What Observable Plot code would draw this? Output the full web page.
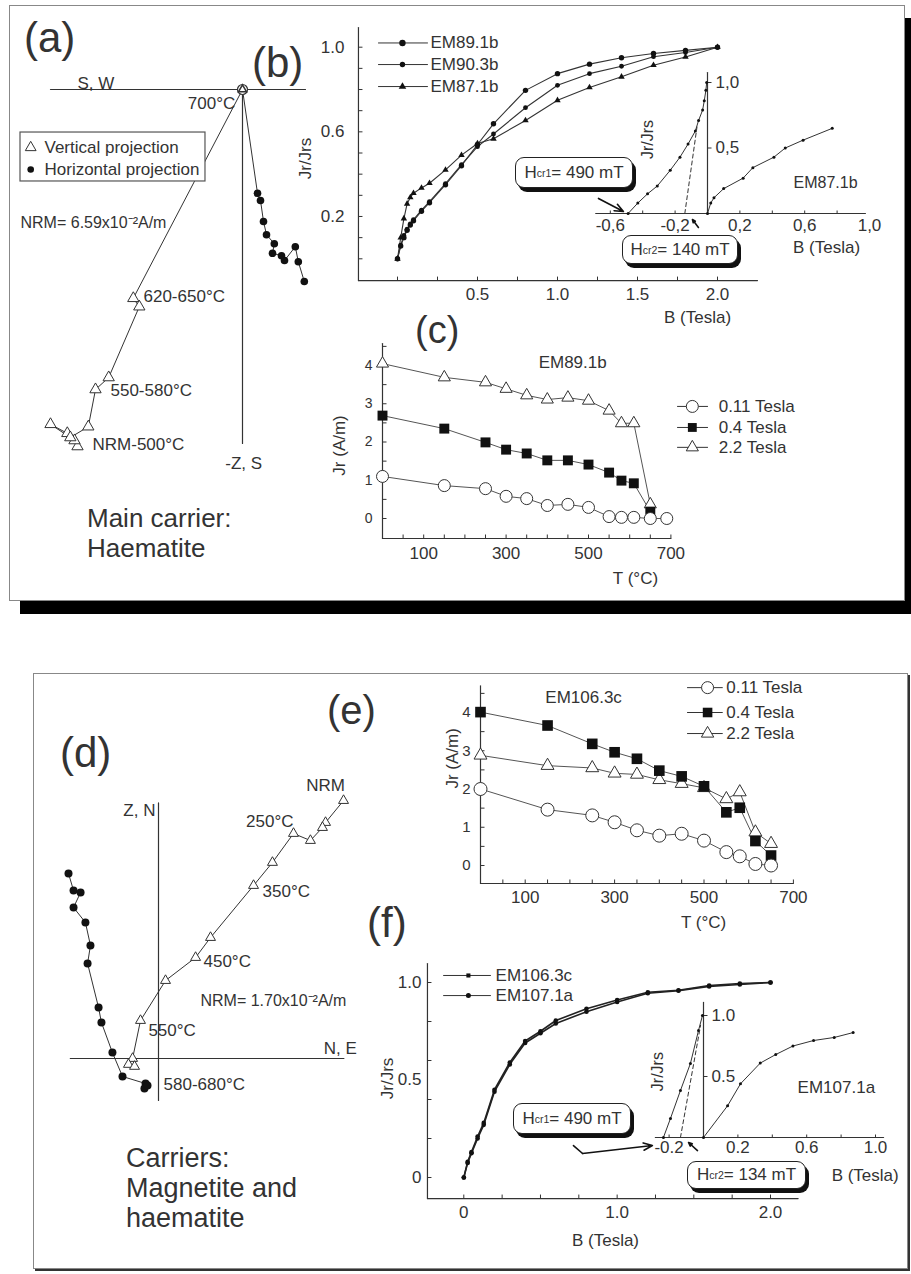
<!DOCTYPE html>
<html>
<head>
<meta charset="utf-8">
<title>Palaeomagnetic and rock-magnetic results</title>
<script src="https://cdn.jsdelivr.net/npm/d3@7"></script>
<script src="https://cdn.jsdelivr.net/npm/@observablehq/plot@0.6"></script>
<style>
  html, body { margin: 0; padding: 0; background: #fff; }
  #fig { position: relative; width: 911px; height: 1274px; overflow: hidden; background: #fff;
         font-family: "Liberation Sans", Arial, Helvetica, sans-serif; color: #333; }
  #fig > svg { position: absolute; left: 0; top: 0; }
  .frame { position: absolute; box-sizing: border-box; background: #fff; }
  .t { position: absolute; white-space: nowrap; line-height: 1; }
  .callout { position: absolute; box-sizing: border-box; background: #fff; border: 1.6px solid #222;
             border-radius: 9px; box-shadow: 3px 4px 0 #111; display: flex; align-items: center;
             justify-content: center; font-size: 17px; white-space: nowrap; color: #333; }
  .callout sub { font-size: 0.62em; vertical-align: -0.3em; }
</style>
</head>
<body>
<div id="fig"></div>
<script>
// ---------- (a) orthogonal demagnetization plot, components in mA/m ----------
const aVertical = [
  [-27.5, -59.5], [-28.0, -58.5], [-29.2, -57.3], [-32.0, -55.8], [-28.7, -58.0],
  [-25.7, -56.2], [-24.5, -50.0], [-22.3, -48.0], [-17.2, -36.2], [-18.2, -34.8], [0, 0]
];
const aHorizontal = [
  [10.3, -32.0], [9.3, -28.7], [8.8, -26.2], [7.0, -28.5], [6.5, -27.7], [5.0, -27.3],
  [5.3, -25.7], [4.0, -24.2], [3.5, -22.0], [3.0, -18.5], [2.5, -17.3], [0, 0]
];

// ---------- (b) IRM acquisition, Jr/Jrs vs B (T) ----------
const bField  = [0, 0.02, 0.04, 0.06, 0.08, 0.1, 0.15, 0.2, 0.3, 0.4, 0.5, 0.6, 0.8, 1.0, 1.2, 1.4, 1.6, 1.8, 2.0];
const bEM891b = [0, 0.06, 0.10, 0.135, 0.16, 0.18, 0.225, 0.265, 0.35, 0.44, 0.54, 0.638, 0.796, 0.875, 0.92, 0.95, 0.97, 0.985, 1.0];
const bEM903b = [0, 0.065, 0.11, 0.14, 0.165, 0.185, 0.23, 0.27, 0.355, 0.445, 0.53, 0.59, 0.714, 0.82, 0.875, 0.91, 0.955, 0.975, 1.0];
const bEM871b = [0, 0.10, 0.19, 0.26, 0.29, 0.31, 0.335, 0.357, 0.42, 0.49, 0.545, 0.567, 0.654, 0.749, 0.81, 0.86, 0.915, 0.954, 1.0];
// inset: back-field and forward curves of EM87.1b
const bBackField = [-0.49, -0.43, -0.37, -0.31, -0.23, -0.17, -0.12, -0.075, -0.055, -0.03, -0.02, -0.01, -0.005];
const bBackJ     = [0, 0.08, 0.15, 0.21, 0.33, 0.43, 0.53, 0.63, 0.71, 0.79, 0.86, 0.94, 1.0];
const bFwdField  = [0, 0.02, 0.04, 0.1, 0.22, 0.28, 0.41, 0.48, 0.59, 0.77];
const bFwdJ      = [0, 0.08, 0.12, 0.19, 0.27, 0.35, 0.43, 0.50, 0.56, 0.65];
const bHcr = [490, 140]; // mT

// ---------- (c) thermal demagnetization of IRM, EM89.1b ----------
const cTemp = [0, 150, 250, 300, 350, 400, 450, 500, 550, 580, 610, 650, 690];
const c011  = [1.10, 0.86, 0.78, 0.58, 0.52, 0.34, 0.37, 0.29, 0.05, 0.03, 0.03, 0, 0];
const c04   = [2.69, 2.35, 1.99, 1.80, 1.70, 1.52, 1.52, 1.41, 1.20, 0.99, 0.92, 0.18];
const c22   = [4.05, 3.69, 3.56, 3.39, 3.22, 3.11, 3.16, 3.08, 2.82, 2.49, 2.49, 0.37];

// ---------- (d) orthogonal demagnetization plot, components in mA/m ----------
const dVertical = [
  [10.28, 14.33], [9.28, 13.11], [9.11, 12.83], [8.44, 12.11], [7.5, 12.5], [6.33, 10.89],
  [5.28, 9.61], [2.89, 6.72], [2.06, 5.61], [0.39, 4.33], [-1.0, 2.11], [-1.44, 0],
  [-1.67, -0.33], [-1.33, -0.44]
];
const dHorizontal = [
  [-5.0, 10.28], [-4.72, 9.33], [-4.33, 9.22], [-4.72, 8.39], [-4.06, 7.56], [-3.78, 6.28],
  [-3.94, 5.28], [-3.33, 2.83], [-3.17, 2.0], [-2.56, 0.33], [-2.0, -1.0], [-0.72, -1.39],
  [-0.78, -1.67], [-0.61, -1.5]
];

// ---------- (e) thermal demagnetization of IRM, EM106.3c ----------
const eTemp = [0, 150, 250, 300, 350, 400, 450, 500, 550, 580, 615, 650];
const e011  = [2.0, 1.46, 1.31, 1.13, 0.92, 0.78, 0.83, 0.65, 0.35, 0.24, 0.04, 0];
const e04   = [4.01, 3.66, 3.18, 2.96, 2.79, 2.48, 2.33, 2.07, 1.39, 1.51, 0.64, 0.26];
const e22   = [2.88, 2.61, 2.55, 2.41, 2.38, 2.24, 2.14, 2.03, 1.74, 1.92, 0.87, 0.57];

// ---------- (f) IRM acquisition ----------
const fField   = [0, 0.025, 0.05, 0.09, 0.13, 0.2, 0.3, 0.4, 0.5, 0.6, 0.8, 1.0, 1.2, 1.4, 1.6, 1.8, 2.0];
const fEM1063c = [0, 0.08, 0.13, 0.21, 0.28, 0.45, 0.59, 0.70, 0.75, 0.805, 0.865, 0.91, 0.95, 0.96, 0.985, 0.995, 1.0];
const fEM1071a = [0, 0.075, 0.125, 0.20, 0.27, 0.44, 0.58, 0.69, 0.74, 0.79, 0.85, 0.90, 0.945, 0.958, 0.98, 0.99, 1.0];
const fBackField = [-0.233, -0.192, -0.134, -0.076, -0.029, -0.006];
const fBackJ     = [0, 0.156, 0.385, 0.607, 0.877, 1.0];
const fFwdField  = [0, 0.14, 0.215, 0.33, 0.42, 0.52, 0.64, 0.76, 0.87];
const fFwdJ      = [0, 0.26, 0.44, 0.61, 0.68, 0.75, 0.795, 0.82, 0.86];
const fHcr = [490, 134]; // mT

// ---------- helpers ----------
const ink = "#333";
const FONT = '"Liberation Sans", Arial, Helvetica, sans-serif';
const fig = document.getElementById("fig");
const pts = (xs, ys) => xs.map((x, i) => [x, ys[i]]);
const tickMark = (dx, dy) => ({draw(ctx) { ctx.moveTo(0, 0); ctx.lineTo(dx, dy); }});
const TICK_UP = tickMark(0, -4);
const TICK_RIGHT = tickMark(4, 0);
const fmt1 = d => d.toFixed(1);
const fmtComma = d => d.toFixed(1).replace(".", ",");
const fmt0 = d => (d === 0 ? "0" : d.toFixed(1));

function label(x, y, text, o = {}) {
  return Plot.text([{x, y, text}], {x: "x", y: "y", text: "text", fill: ink, fontSize: 17, ...o});
}
function seg(points, o = {}) {
  return Plot.line(points, {stroke: ink, strokeWidth: 1.2, ...o});
}
function arrow(x1, y1, x2, y2, o = {}) {
  return Plot.arrow([{x1, y1, x2, y2}], {x1: "x1", y1: "y1", x2: "x2", y2: "y2",
    stroke: "#111", strokeWidth: 1.6, headLength: 9, headAngle: 45, ...o});
}
function xAxis(y, x1, x2, ticks, labels, format, o = {}) {
  const {dy = 15, fontSize = 17, tick = TICK_UP} = o;
  return [
    seg([[x1, y], [x2, y]]),
    Plot.dot(ticks, {x: d => d, y: () => y, symbol: tick, fill: "none", stroke: ink, strokeWidth: 1}),
    Plot.text(labels, {x: d => d, y: () => y, text: format, dy, fontSize, fill: ink})
  ];
}
function yAxis(x, y1, y2, ticks, labels, format, o = {}) {
  const {dx = -8, fontSize = 17, tick = TICK_RIGHT} = o;
  return [
    seg([[x, y1], [x, y2]]),
    Plot.dot(ticks, {x: () => x, y: d => d, symbol: tick, fill: "none", stroke: ink, strokeWidth: 1}),
    Plot.text(labels, {x: () => x, y: d => d, text: format, dx,
      textAnchor: dx < 0 ? "end" : "start", fontSize, fill: ink})
  ];
}
function legendRow(x1, xm, x2, xt, y, text, dotOpts, o = {}) {
  return [
    seg([[x1, y], [x2, y]], {strokeWidth: 1}),
    Plot.dot([[xm, y]], dotOpts),
    label(xt, y, text, {textAnchor: "start", ...o})
  ];
}
function layer(xDomain, xRange, yDomain, yRange, marks) {
  fig.append(Plot.plot({
    width: 911, height: 1274, margin: 0,
    x: {type: "linear", domain: xDomain, range: xRange, axis: null},
    y: {type: "linear", domain: yDomain, range: yRange, axis: null},
    style: {background: "transparent", overflow: "visible", maxWidth: "none", fontFamily: FONT},
    marks: marks.flat(2)
  }));
}
function html(content, css, cls = "t") {
  const el = document.createElement("div");
  el.className = cls;
  el.innerHTML = content;
  Object.assign(el.style, css);
  fig.append(el);
  return el;
}

// ---------- frames ----------
html("", {left: "9px", top: "5px", width: "896px", height: "596px",
  border: "1.5px solid #888", boxShadow: "11px 13px 0 #000"}, "frame");
html("", {left: "33px", top: "673px", width: "875px", height: "596px",
  border: "1.5px solid #888", boxShadow: "2px 2px 0 #333"}, "frame");

// ---------- (a) ----------
const triOpen = {symbol: "triangle", fill: "white", stroke: ink, strokeWidth: 1};
layer([-40, 15], [2, 332], [-65, 15], [479, -1], [
  seg([[-32, 0], [10.5, 0]]),
  seg([[0, 0], [0, -59]]),
  Plot.line(aVertical, {stroke: ink, strokeWidth: 1}),
  Plot.line(aHorizontal, {stroke: ink, strokeWidth: 1}),
  Plot.dot(aHorizontal.slice(0, -1), {r: 3.8, fill: "#111"}),
  Plot.dot(aVertical.slice(0, -1), {...triOpen, r: 4.2}),
  Plot.dot(aHorizontal.slice(-1), {r: 5, fill: "white", stroke: ink, strokeWidth: 1.2}),
  Plot.dot(aVertical.slice(-1), {symbol: "triangle", r: 3, fill: "none", stroke: ink}),
  label(-27.5, 1.0, "S, W", {textAnchor: "start"}),
  label(-1.2, -2.4, "700°C", {textAnchor: "end"}),
  label(-37, -22.3, "NRM= 6.59x10⁻²A/m", {textAnchor: "start", fontSize: 16}),
  label(-16.5, -34.5, "620-650°C", {textAnchor: "start"}),
  label(-22, -50.2, "550-580°C", {textAnchor: "start"}),
  label(-25, -59.1, "NRM-500°C", {textAnchor: "start"}),
  label(0.2, -62.4, "-Z, S"),
  // legend box
  Plot.rect([{x1: -37, x2: -6.17, y1: -7.17, y2: -15.33}],
    {x1: "x1", x2: "x2", y1: "y1", y2: "y2", fill: "white", stroke: "#555", strokeWidth: 1.2}),
  Plot.dot([[-35.3, -9.67]], {...triOpen, r: 4}),
  label(-33, -9.67, "Vertical projection", {textAnchor: "start"}),
  Plot.dot([[-35.3, -13.33]], {r: 3.3, fill: "#111"}),
  label(-33, -13.33, "Horizontal projection", {textAnchor: "start"})
]);

// ---------- (b) main ----------
layer([0, 2], [397, 717], [0, 1], [258.3, 46.7], [
  yAxis(-0.244, -0.103, 1.093, d3.range(0, 11).map(i => i / 10), [0.2, 0.6, 1.0], fmt1, {dx: -14}),
  xAxis(-0.103, -0.244, 2.25, d3.range(0, 9).map(i => i * 0.25), [0.5, 1.0, 1.5, 2.0], fmt1, {dy: 14}),
  label(-0.575, 0.474, "Jr/Jrs", {rotate: -90}),
  label(1.875, -0.277, "B (Tesla)"),
  Plot.line(pts(bField, bEM871b), {stroke: ink, strokeWidth: 1.1}),
  Plot.line(pts(bField, bEM903b), {stroke: ink, strokeWidth: 1.1}),
  Plot.line(pts(bField, bEM891b), {stroke: ink, strokeWidth: 1.1}),
  Plot.dot(pts(bField, bEM871b), {symbol: "triangle", r: 2.4, fill: "#111"}),
  Plot.dot(pts(bField, bEM903b), {r: 2.4, fill: "#111"}),
  Plot.dot(pts(bField, bEM891b), {r: 2.7, fill: "#111"}),
  legendRow(-0.119, 0.031, 0.1875, 0.206, 1.02, "EM89.1b", {r: 3.2, fill: "#111"}),
  legendRow(-0.119, 0.031, 0.1875, 0.206, 0.918, "EM90.3b", {r: 2.7, fill: "#111"}),
  legendRow(-0.119, 0.031, 0.1875, 0.206, 0.814, "EM87.1b", {symbol: "triangle", r: 2.8, fill: "#111"})
]);

// ---------- (b) inset ----------
layer([0, 1], [707, 869], [0, 1], [213, 82], [
  xAxis(0, -0.69, 0.975, [-0.6, -0.4, -0.2, 0.2, 0.4, 0.6, 0.8], [-0.6, -0.2, 0.2, 0.6, 1.0], fmtComma,
    {dy: 12, tick: tickMark(0, -3)}),
  yAxis(0, 0, 1.076, [0.5, 1.0], [0.5, 1.0], fmtComma, {dx: 8}),
  label(-0.37, 0.565, "Jr/Jrs", {rotate: -90, fontSize: 16}),
  label(0.735, -0.26, "B (Tesla)"),
  label(0.531, 0.237, "EM87.1b", {textAnchor: "start", fontSize: 16}),
  Plot.line(pts(bBackField, bBackJ), {stroke: ink, strokeWidth: 1}),
  Plot.line(pts(bFwdField, bFwdJ), {stroke: ink, strokeWidth: 1}),
  Plot.dot(pts(bBackField, bBackJ), {r: 1.5, fill: "#111"}),
  Plot.dot(pts(bFwdField, bFwdJ), {r: 1.5, fill: "#111"}),
  seg([[-bHcr[1] / 1000, 0], [-0.065, 0.66]], {strokeWidth: 1, strokeDasharray: "4,3"}),
  arrow(-0.673, 0.115, -0.519, 0.015),
  arrow(-0.056, -0.107, -0.093, -0.046, {headLength: 7})
]);

// ---------- (c) ----------
const circOpen = {r: 6, fill: "white", stroke: ink, strokeWidth: 1};
const sqFill = {symbol: "square", r: 5.6, fill: "#111"};
layer([0, 700], [382, 670.4], [0, 4], [518, 365], [
  yAxis(0, -0.523, 4.575, d3.range(0, 10).map(i => i / 2), [0, 1, 2, 3, 4], String, {dx: -10, fontSize: 14}),
  xAxis(-0.523, 0, 700, d3.range(0, 701, 50), [100, 300, 500, 700], String, {dy: 15}),
  label(-104, 1.91, "Jr (A/m)", {rotate: -90}),
  label(614, -1.57, "T (°C)"),
  label(379, 4.07, "EM89.1b", {textAnchor: "start"}),
  Plot.line(pts(cTemp, c22), {stroke: "#555", strokeWidth: 1}),
  Plot.line(pts(cTemp, c04), {stroke: "#555", strokeWidth: 1}),
  Plot.line(pts(cTemp, c011), {stroke: "#555", strokeWidth: 1}),
  Plot.dot(pts(cTemp, c22), {...triOpen, r: 4.5}),
  Plot.dot(pts(cTemp, c04), sqFill),
  Plot.dot(pts(cTemp, c011), circOpen),
  legendRow(716, 752, 789, 816, 2.93, "0.11 Tesla", circOpen),
  legendRow(716, 752, 789, 816, 2.38, "0.4 Tesla", {...sqFill, r: 5}),
  legendRow(716, 752, 789, 816, 1.86, "2.2 Tesla", {...triOpen, r: 4.5})
]);

// ---------- (d) ----------
layer([0, 10], [158, 338], [0, 10], [1058, 878], [
  seg([[-4.9, 0], [10.3, 0]]),
  seg([[0, 14.2], [0, -2.33]]),
  Plot.line(dVertical, {stroke: ink, strokeWidth: 1}),
  Plot.line(dHorizontal, {stroke: ink, strokeWidth: 1}),
  Plot.dot(dHorizontal, {r: 4, fill: "#111"}),
  Plot.dot(dVertical, {...triOpen, r: 3.7}),
  label(-0.17, 13.75, "Z, N", {textAnchor: "end"}),
  label(10.1, 0.58, "N, E"),
  label(9.28, 15.17, "NRM"),
  label(7.5, 13.14, "250°C", {textAnchor: "end"}),
  label(5.78, 9.28, "350°C", {textAnchor: "start"}),
  label(2.5, 5.36, "450°C", {textAnchor: "start"}),
  label(2.33, 3.22, "NRM= 1.70x10⁻²A/m", {textAnchor: "start", fontSize: 16}),
  label(-0.56, 1.56, "550°C", {textAnchor: "start"}),
  label(0.28, -1.47, "580-680°C", {textAnchor: "start"})
]);

// ---------- (e) ----------
layer([0, 700], [480, 792.9], [0, 4], [865, 712], [
  yAxis(0, -0.47, 4.7, d3.range(0, 10).map(i => i / 2), [0, 1, 2, 3, 4], String, {dx: -10, fontSize: 15}),
  xAxis(-0.47, 0, 700, d3.range(0, 701, 50), [100, 300, 500, 700], String, {dy: 14}),
  label(-62.6, 2.8, "Jr (A/m)", {rotate: -90}),
  label(499, -1.49, "T (°C)"),
  label(145, 4.38, "EM106.3c", {textAnchor: "start"}),
  Plot.line(pts(eTemp, e22), {stroke: "#555", strokeWidth: 1}),
  Plot.line(pts(eTemp, e04), {stroke: "#555", strokeWidth: 1}),
  Plot.line(pts(eTemp, e011), {stroke: "#555", strokeWidth: 1}),
  Plot.dot(pts(eTemp, e22), {...triOpen, r: 4.8}),
  Plot.dot(pts(eTemp, e04), {...sqFill, r: 6}),
  Plot.dot(pts(eTemp, e011), {...circOpen, r: 6.5}),
  legendRow(463, 508, 541, 550, 4.65, "0.11 Tesla", circOpen),
  legendRow(463, 508, 541, 550, 4.0, "0.4 Tesla", {...sqFill, r: 5.4}),
  legendRow(463, 508, 541, 550, 3.45, "2.2 Tesla", {...triOpen, r: 4.6})
]);

// ---------- (f) main ----------
layer([0, 2], [463.3, 770], [0, 1], [1177, 982], [
  yAxis(-0.237, -0.108, 1.097, [0, 0.2, 0.4, 0.6, 0.8, 1.0], [0, 0.5, 1.0], fmt0, {dx: -6}),
  xAxis(-0.108, -0.237, 2.18, d3.range(0, 9).map(i => i * 0.25), [0, 1.0, 2.0], fmt0, {dy: 14}),
  label(-0.498, 0.508, "Jr/Jrs", {rotate: -90}),
  label(0.924, -0.323, "B (Tesla)"),
  Plot.line(pts(fField, fEM1071a), {stroke: "#222", strokeWidth: 1.6}),
  Plot.line(pts(fField, fEM1063c), {stroke: "#222", strokeWidth: 1.6}),
  Plot.dot(pts(fField, fEM1071a), {r: 2.3, fill: "#111"}),
  Plot.dot(pts(fField, fEM1063c), {r: 2.3, fill: "#111"}),
  legendRow(-0.132, 0.03, 0.174, 0.207, 1.036, "EM106.3c", {symbol: "square", r: 2.3, fill: "#111"}),
  legendRow(-0.132, 0.03, 0.174, 0.207, 0.933, "EM107.1a", {r: 2.5, fill: "#111"})
]);

// ---------- (f) inset ----------
layer([0, 1], [703, 875], [0, 1], [1137, 1015], [
  xAxis(0, -0.28, 1.047, [-0.2, 0.2, 0.4, 0.6, 0.8, 1.0], [-0.2, 0.2, 0.6, 1.0], fmt1,
    {dy: 10, tick: tickMark(0, -3)}),
  yAxis(0, 0, 1.107, [0.5, 1.0], [0.5, 1.0], fmt1, {dx: 8}),
  label(-0.267, 0.54, "Jr/Jrs", {rotate: -90, fontSize: 16}),
  label(0.547, 0.41, "EM107.1a", {textAnchor: "start"}),
  label(0.94, -0.31, "B (Tesla)"),
  Plot.line(pts(fBackField, fBackJ), {stroke: ink, strokeWidth: 1}),
  Plot.line(pts(fFwdField, fFwdJ), {stroke: ink, strokeWidth: 1}),
  Plot.dot(pts(fBackField, fBackJ), {r: 1.5, fill: "#111"}),
  Plot.dot(pts(fFwdField, fFwdJ), {r: 1.5, fill: "#111"}),
  seg([[-fHcr[1] / 1000, 0], [-0.017, 0.92]], {strokeWidth: 1, strokeDasharray: "4,3"}),
  seg([[-0.756, -0.066], [-0.703, -0.131]], {stroke: "#111", strokeWidth: 1.6}),
  arrow(-0.703, -0.131, -0.297, -0.066),
  arrow(-0.035, -0.107, -0.087, -0.041, {headLength: 7})
]);

// ---------- callouts ----------
html(`H<sub>cr1</sub>= ${bHcr[0]} mT`, {left: "515px", top: "157px", width: "118px", height: "31px"}, "callout");
html(`H<sub>cr2</sub>= ${bHcr[1]} mT`, {left: "622px", top: "235px", width: "116px", height: "29px"}, "callout");
html(`H<sub>cr1</sub>= ${fHcr[0]} mT`, {left: "513px", top: "1103px", width: "118px", height: "31px"}, "callout");
html(`H<sub>cr2</sub>= ${fHcr[1]} mT`, {left: "687px", top: "1161px", width: "119px", height: "28px"}, "callout");

// ---------- panel letters and captions ----------
const big = fs => ({fontSize: fs + "px", color: "#333"});
html("(a)", {left: "24px", top: "17px", ...big(42)});
html("(b)", {left: "252px", top: "42px", ...big(42)});
html("(c)", {left: "415px", top: "311px", ...big(38)});
html("(d)", {left: "60px", top: "732px", ...big(42)});
html("(e)", {left: "327px", top: "690px", ...big(40)});
html("(f)", {left: "367px", top: "902px", ...big(42)});
html("Main carrier:<br>Haematite", {left: "87px", top: "503px", lineHeight: "30px", ...big(26)});
html("Carriers:<br>Magnetite and<br>haematite", {left: "126px", top: "1143px", lineHeight: "30px", ...big(27)});
</script>
</body>
</html>
